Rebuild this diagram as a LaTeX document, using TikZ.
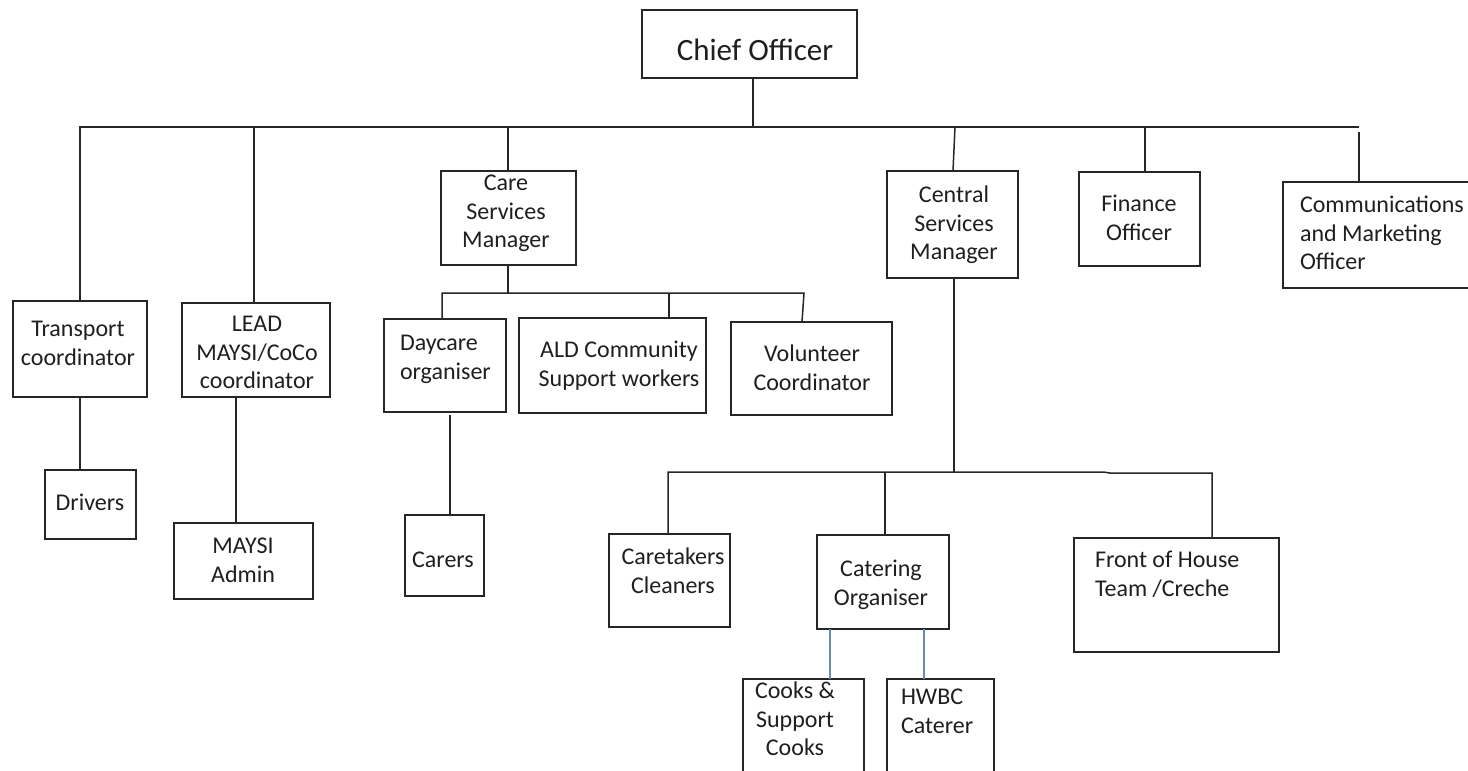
\documentclass[tikz,border=0pt]{standalone}
\usepackage{fontspec}
\setmainfont{Carlito}
\begin{document}
\begin{tikzpicture}[x=1pt,y=-1pt,
  box/.style={draw=black!85, line width=1.4pt, inner sep=0pt, outer sep=0pt,
    anchor=north west, fill=none},
  wire/.style={draw=black!85, line width=1.5pt},
  bluewire/.style={draw=wireblue, line width=1.2pt},
  txt/.style={inner sep=0pt, outer sep=0pt, text=black!88,
    font=\fontsize{24}{28.5}\selectfont},
  ctxt/.style={txt, anchor=north, align=center},
  ltxt/.style={txt, anchor=north west, align=left},
  bigtxt/.style={inner sep=0pt, text=black!88, anchor=north,
    font=\fontsize{31}{37}\selectfont}]
\definecolor{wireblue}{RGB}{105,140,180}
% canvas
\useasboundingbox (0,0) rectangle (1468,771);
\clip (0,0) rectangle (1468,771);
\fill[white] (0,0) rectangle (1468,771);

% box: name, left, top, right, bottom
\newcommand\orgbox[5]{%
  \node[box, minimum width={#4-#2}, minimum height={#5-#3}] (#1) at (#2,#3) {};}

% ---------- boxes ----------
\orgbox{chief}{642}{10}{857}{78}
\orgbox{transport}{13}{301}{147}{397}
\orgbox{lead}{182}{303}{330}{397}
\orgbox{care}{441}{171}{576}{265}
\orgbox{central}{887}{171}{1018}{278}
\orgbox{finance}{1079}{172}{1200}{266}
\orgbox{comms}{1283}{182}{1480}{288}
\orgbox{drivers}{45}{470}{136}{539}
\orgbox{maysi}{174}{523}{313}{599}
\orgbox{daycare}{384}{319}{506}{412}
\orgbox{ald}{519}{318}{706}{413}
\orgbox{volunteer}{731}{322}{892}{415}
\orgbox{carers}{405}{515}{484}{596}
\orgbox{caretakers}{609}{534}{730}{627}
\orgbox{catering}{817}{535}{949}{629}
\orgbox{front}{1074}{538}{1279}{652}
\orgbox{cooks}{743}{679}{864}{790}
\orgbox{hwbc}{887}{679}{994}{790}

% ---------- texts (placed by first baseline) ----------
\node[bigtxt] (tChief) at (755,34) {\strut Chief Officer};
\node[ctxt] (tTransport) at (78,317) {\strut Transport\\\strut coordinator};
\node[ctxt] (tLead) at (257,312) {\strut LEAD\\\strut MAYSI/CoCo\\\strut coordinator};
\node[ctxt] (tCare) at (506,171) {\strut Care\\\strut Services\\\strut Manager};
\node[ctxt] (tCentral) at (954,183) {\strut Central\\\strut Services\\\strut Manager};
\node[ctxt] (tFinance) at (1139,192) {\strut Finance\\\strut Officer};
\node[ltxt] (tComms) at (1300,193) {\strut Communications\\\strut and Marketing\\\strut Officer};
\node[ctxt] (tDrivers) at (90,491) {\strut Drivers};
\node[ctxt] (tMaysi) at (243,534) {\strut MAYSI\\\strut Admin};
\node[ltxt] (tDaycare) at (400,331) {\strut Daycare\\\strut organiser};
\node[ctxt] (tAld) at (619,338) {\strut ALD Community\\\strut Support workers};
\node[ctxt] (tVolunteer) at (812,342) {\strut Volunteer\\\strut Coordinator};
\node[ctxt] (tCarers) at (443,548) {\strut Carers};
\node[ctxt] (tCaretakers) at (673,545) {\strut Caretakers\\\strut Cleaners};
\node[ctxt] (tCatering) at (881,557) {\strut Catering\\\strut Organiser};
\node[ltxt] (tFront) at (1095,548) {\strut Front of House\\\strut Team /Creche};
\node[ctxt] (tCooks) at (795,679) {\strut Cooks \&\\\strut Support\\\strut Cooks};
\node[ltxt] (tHwbc) at (901,685) {\strut HWBC\\\strut Caterer};

% ---------- junction points ----------
\coordinate (busL) at (80,127);
\coordinate (busR) at (1359,127);
\coordinate (jChief) at (753,127);
\coordinate (jLead) at (254,127);
\coordinate (jCare) at (508,127);
\coordinate (jCentral) at (955,127);
\coordinate (jFinance) at (1145,127);
\coordinate (jComms) at (1359,132);

\coordinate (careBusL) at (442,293);
\coordinate (careBusR) at (804,293);
\coordinate (jCareMid) at (508,293);
\coordinate (jAld) at (669,293);

\coordinate (cenBusL) at (668,472);
\coordinate (cenBusR) at (1212,473);
\coordinate (jCenMid) at (954,472);
\coordinate (jCatering) at (885,472);

% ---------- top level ----------
\draw[wire] (jChief |- chief.south) -- (jChief);
\draw[wire] (busL |- transport.north) -- (busL) -- (busR);
\draw[wire] (jLead) -- (jLead |- lead.north);
\draw[wire] (jCare) -- (jCare |- care.north);
\draw[wire] (jCentral) -- (953,171) coordinate (cTop) -- (cTop |- central.north);
\draw[wire] (jFinance) -- (jFinance |- finance.north);
\draw[wire] (jComms) -- (jComms |- comms.north);

% ---------- left branches ----------
\draw[wire] (busL |- transport.south) -- (busL |- drivers.north);
\draw[wire] (236,0 |- lead.south) -- (236,0 |- maysi.north);

% ---------- care services ----------
\draw[wire] (jCareMid |- care.south) -- (jCareMid);
\draw[wire] (careBusL |- daycare.north) -- (careBusL) -- (careBusR)
  -- (802,0 |- volunteer.north);
\draw[wire] (jAld) -- (jAld |- ald.north);
\draw[wire] (450,415) coordinate (dcBot) -- (dcBot |- carers.north);

% ---------- central services ----------
\draw[wire] (jCenMid |- central.south) -- (jCenMid);
\draw[wire] (cenBusL |- caretakers.north) -- (cenBusL) -- (jCenMid)
  -- (1103,472) -- (1110,473) -- (cenBusR) -- (cenBusR |- front.north);
\draw[wire] (jCatering) -- (jCatering |- catering.north);

% ---------- catering ----------
\draw[bluewire] (830,0 |- catering.south) -- (830,0 |- cooks.north);
\draw[bluewire] (924,0 |- catering.south) -- (924,0 |- hwbc.north);
\end{tikzpicture}
\end{document}
